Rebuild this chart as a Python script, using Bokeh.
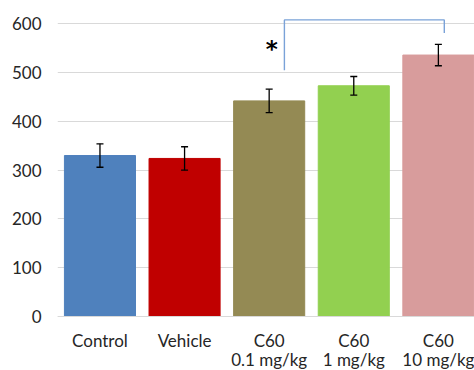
from bokeh.plotting import figure
from bokeh.models import ColumnDataSource, Whisker, TeeHead, FixedTicker, Span, Range1d
from bokeh.core.properties import value
from bokeh.embed import file_html
from bokeh.resources import INLINE

label_line1 = ["Control", "Vehicle", "C60", "C60", "C60"]
label_line2 = ["", "", "0.1 mg/kg", "1 mg/kg", "10 mg/kg"]
means = [330, 324, 442, 473, 536]
errors = [24, 24, 24, 19, 22]
colors = ["#4F81BD", "#C00000", "#948A54", "#92D050", "#D89C9C"]
y_ticks = [0, 100, 200, 300, 400, 500, 600]

# significance bracket between C60 0.1 mg/kg and C60 10 mg/kg
bracket_x = [3.18, 3.18, 5.07, 5.07]
bracket_y = [505, 608, 608, 581]
star_x, star_y = 3.03, 548

# vertical placement of the category labels (data units below the zero line)
label1_y, label2_y = -48.5, -88

xs = list(range(1, len(means) + 1))
src = ColumnDataSource(dict(
    x=xs, top=means, color=colors,
    upper=[m + e for m, e in zip(means, errors)],
    lower=[m - e for m, e in zip(means, errors)],
    l1=label_line1, l2=label_line2,
))

FONT = "Lato"
TXT = "#262626"
p = figure(width=474, height=370, output_backend="svg", toolbar_location=None,
           x_range=Range1d(0.498, 5.427), y_range=Range1d(-110.7, 647.8),
           x_axis_location=None,
           min_border_left=57, min_border_right=0, min_border_top=0, min_border_bottom=0)
p.outline_line_color = None
p.background_fill_color = "white"
p.border_fill_color = "white"

p.vbar(x="x", top="top", bottom=0, width=0.84, color="color", source=src)

head = dict(size=7, line_color="black", line_width=1.3)
w = Whisker(base="x", upper="upper", lower="lower", source=src, level="overlay",
            line_color="black", line_width=1.3,
            upper_head=TeeHead(**head), lower_head=TeeHead(**head))
p.add_layout(w)

p.add_layout(Span(location=0, dimension="width", line_color="#D9D9D9", line_width=1.2, level="overlay"))

p.line(bracket_x, bracket_y, line_color="#7AA2D8", line_width=1.4)
p.text(x=[star_x], y=[star_y], text=["*"], text_font=value("DejaVu Sans"), text_font_style="bold",
       text_font_size="23px", text_align="center", text_baseline="alphabetic", text_color="black")

p.text(x="x", y=label1_y, text="l1", source=src, text_font=value(FONT), text_font_size="17px",
       text_align="center", text_baseline="alphabetic", text_color=TXT)
p.text(x="x", y=label2_y, text="l2", source=src, text_font=value(FONT), text_font_size="17px",
       text_align="center", text_baseline="alphabetic", text_color=TXT)

p.xgrid.grid_line_color = None
p.ygrid.grid_line_color = "#D9D9D9"
p.ygrid.grid_line_width = 1.2
p.ygrid.ticker = FixedTicker(ticks=y_ticks)

ax = p.yaxis[0]
ax.ticker = FixedTicker(ticks=y_ticks)
ax.axis_line_color = None
ax.major_tick_line_color = None
ax.minor_tick_line_color = None
ax.major_tick_out = 0
ax.major_tick_in = 0
ax.major_label_text_font = FONT
ax.major_label_text_font_size = "17px"
ax.major_label_text_color = TXT
ax.major_label_standoff = 16

open("out.html", "w").write(file_html(p, INLINE))
